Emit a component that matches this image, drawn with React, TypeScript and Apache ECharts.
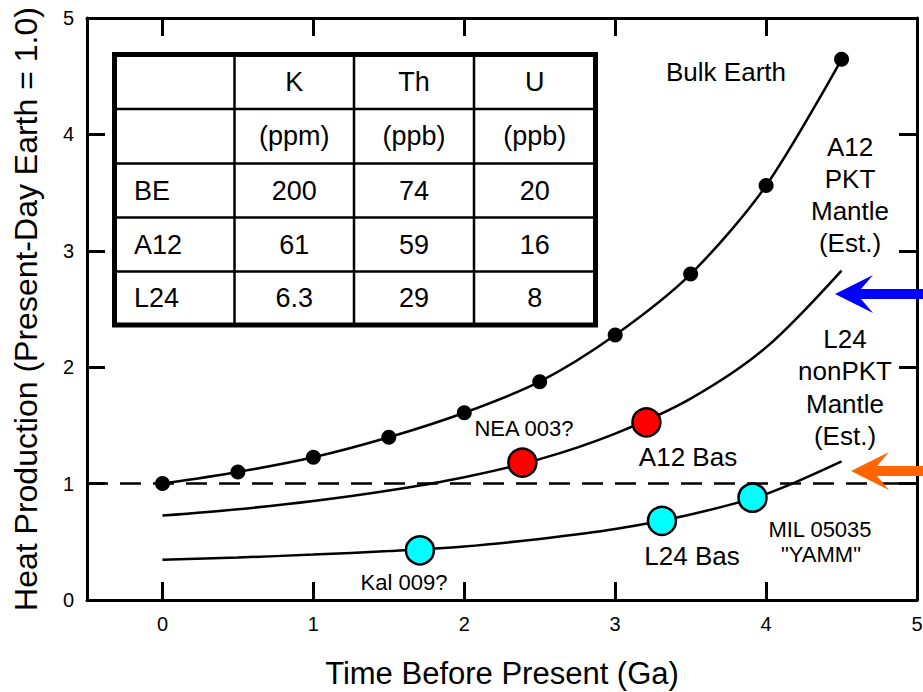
import React, { useEffect, useRef } from "react";
import * as echarts from "echarts";

// ---- data ----
const timeGa = [0, 0.5, 1, 1.5, 2, 2.5, 3, 3.5, 4, 4.5];
const bulkEarth = [1.0, 1.1, 1.226, 1.398, 1.609, 1.876, 2.277, 2.8, 3.56, 4.645];
const a12Mantle = [0.725, 0.78, 0.85, 0.94, 1.055, 1.21, 1.43, 1.73, 2.17, 2.83];
const l24Mantle = [0.345, 0.365, 0.39, 0.42, 0.46, 0.525, 0.61, 0.735, 0.91, 1.19];
const a12SampleNames = ["NEA 003?", "A12 Bas"];
const a12SampleTime = [2.385, 3.207];
const a12SampleHeat = [1.18, 1.526];
const l24SampleNames = ["Kal 009?", "L24 Bas", "MIL 05035"];
const l24SampleTime = [1.706, 3.31, 3.91];
const l24SampleHeat = [0.427, 0.68, 0.879];
const referenceLevel = 1.0;

const tableHeader = ["", "K", "Th", "U"];
const tableUnits = ["", "(ppm)", "(ppb)", "(ppb)"];
const tableRowNames = ["BE", "A12", "L24"];
const tableK = ["200", "61", "6.3"];
const tableTh = ["74", "59", "29"];
const tableU = ["20", "16", "8"];

const FONT = "'Liberation Sans', Arial, Helvetica, sans-serif";

function txt(text: string, x: number, y: number, size: number, align = "center") {
  return {
    type: "text",
    x,
    y,
    z: 10,
    style: {
      text,
      fontSize: size,
      fontFamily: FONT,
      fill: "#000",
      align,
      verticalAlign: "middle",
    },
  };
}

function buildTable() {
  const colX = [114.5, 234.5, 354, 474, 595.5];
  const rowY = [54.5, 109, 163.5, 217.5, 271.5, 325];
  const els: any[] = [];
  els.push({
    type: "rect",
    z: 5,
    shape: { x: colX[0], y: rowY[0], width: colX[4] - colX[0], height: rowY[5] - rowY[0] },
    style: { fill: "#fff", stroke: "#000", lineWidth: 5 },
  });
  for (let i = 1; i < 4; i++) {
    els.push({
      type: "line",
      z: 6,
      shape: { x1: colX[i], y1: rowY[0], x2: colX[i], y2: rowY[5] },
      style: { stroke: "#000", lineWidth: 2.5 },
    });
  }
  for (let j = 1; j < 5; j++) {
    els.push({
      type: "line",
      z: 6,
      shape: { x1: colX[0], y1: rowY[j], x2: colX[4], y2: rowY[j] },
      style: { stroke: "#000", lineWidth: 2.5 },
    });
  }
  const mid = (a: number, b: number) => (a + b) / 2;
  const rows = [
    tableHeader,
    tableUnits,
    ...tableRowNames.map((n, i) => [n, tableK[i], tableTh[i], tableU[i]]),
  ];
  rows.forEach((row, r) => {
    row.forEach((cell, c) => {
      if (!cell) return;
      const cy = mid(rowY[r], rowY[r + 1]);
      if (c === 0) els.push(txt(cell, 134, cy, 27, "left"));
      else els.push(txt(cell, mid(colX[c], colX[c + 1]), cy, 27, "center"));
    });
  });
  return els;
}

function arrow(tipX: number, tipY: number, color: string) {
  const headLen = 38;
  const notch = 26;
  const half = 19;
  const shaft = 5;
  return {
    type: "polygon",
    z: 4,
    shape: {
      points: [
        [tipX, tipY],
        [tipX + headLen, tipY - half],
        [tipX + notch, tipY - shaft],
        [923, tipY - shaft],
        [923, tipY + shaft],
        [tipX + notch, tipY + shaft],
        [tipX + headLen, tipY + half],
      ],
    },
    style: { fill: color },
  };
}

export default function App() {
  const ref = useRef<HTMLDivElement>(null);
  useEffect(() => {
    if (!ref.current) return;
    const chart = echarts.init(ref.current, undefined, { renderer: "svg" });
    const axisLine = { show: true, onZero: false, lineStyle: { color: "#000", width: 3 } };
    const axisTick = { show: true, inside: true, length: 18, lineStyle: { color: "#000", width: 3 } };
    const intLabel = (v: number) => (Math.abs(v - Math.round(v)) < 1e-9 ? String(Math.round(v)) : "");
    const xCommon = { type: "value", min: -0.5, max: 5, minInterval: 1, maxInterval: 1, splitLine: { show: false } };
    const yCommon = { type: "value", min: 0, max: 5, interval: 1, splitLine: { show: false } };

    chart.setOption({
      animation: false,
      backgroundColor: "#fff",
      grid: { left: 87, right: 6, top: 18, bottom: 92, containLabel: false, outerBoundsMode: "none" },
      xAxis: [
        {
          ...xCommon,
          position: "bottom",
          axisLine,
          axisTick,
          axisLabel: { formatter: intLabel, fontSize: 20, color: "#000", margin: 14, fontFamily: FONT },
          name: "Time Before Present (Ga)",
          nameLocation: "middle",
          nameGap: 57,
          nameTextStyle: { fontSize: 31, lineHeight: 32, color: "#000", fontFamily: FONT },
        },
        {
          ...xCommon,
          position: "top",
          axisLine,
          axisTick,
          axisLabel: { show: false },
        },
      ],
      yAxis: [
        {
          ...yCommon,
          position: "left",
          axisLine,
          axisTick,
          axisLabel: { fontSize: 20, color: "#000", margin: 13, fontFamily: FONT },
          name: "Heat Production (Present-Day Earth = 1.0)",
          nameLocation: "middle",
          nameGap: 45,
          nameRotate: 90,
          nameTextStyle: { fontSize: 32, color: "#000", fontFamily: FONT },
        },
        {
          ...yCommon,
          position: "right",
          axisLine,
          axisTick,
          axisLabel: { show: false },
        },
      ],
      series: [
        {
          name: "Reference",
          type: "line",
          data: [
            [-0.5, referenceLevel],
            [5, referenceLevel],
          ],
          symbol: "none",
          lineStyle: { color: "#000", width: 2.5, type: [21, 12] },
          z: 1,
        },
        {
          name: "Bulk Earth",
          type: "line",
          data: timeGa.map((t, i) => [t, bulkEarth[i]]),
          smooth: 0.3,
          symbol: "circle",
          symbolSize: 15,
          itemStyle: { color: "#000" },
          lineStyle: { color: "#000", width: 2.5 },
          z: 3,
        },
        {
          name: "A12 PKT Mantle",
          type: "line",
          data: timeGa.map((t, i) => [t, a12Mantle[i]]),
          smooth: 0.3,
          symbol: "none",
          lineStyle: { color: "#000", width: 2.5 },
          z: 3,
        },
        {
          name: "L24 nonPKT Mantle",
          type: "line",
          data: timeGa.map((t, i) => [t, l24Mantle[i]]),
          smooth: 0.3,
          symbol: "none",
          lineStyle: { color: "#000", width: 2.5 },
          z: 3,
        },
        {
          name: "A12 samples",
          type: "scatter",
          data: a12SampleNames.map((n, i) => ({ name: n, value: [a12SampleTime[i], a12SampleHeat[i]] })),
          symbolSize: 28,
          itemStyle: { color: "#ff0000", borderColor: "#000", borderWidth: 2.5, opacity: 1 },
          z: 5,
        },
        {
          name: "L24 samples",
          type: "scatter",
          data: l24SampleNames.map((n, i) => ({ name: n, value: [l24SampleTime[i], l24SampleHeat[i]] })),
          symbolSize: 28,
          itemStyle: { color: "#00ffff", borderColor: "#000", borderWidth: 2.5, opacity: 1 },
          z: 5,
        },
      ],
      graphic: [
        ...buildTable(),
        txt("Bulk Earth", 726, 72, 26),
        txt("A12", 850, 147, 26),
        txt("PKT", 850, 179, 26),
        txt("Mantle", 850, 211, 26),
        txt("(Est.)", 850, 243, 26),
        txt("L24", 845, 339, 26),
        txt("nonPKT", 845, 371, 26),
        txt("Mantle", 845, 404, 26),
        txt("(Est.)", 845, 436, 26),
        txt("A12 Bas", 688, 457, 26),
        txt("L24 Bas", 692, 556, 26),
        txt("NEA 003?", 524, 428, 22),
        txt("Kal 009?", 404, 582, 22),
        txt("MIL 05035", 820, 529, 22),
        txt('"YAMM"', 821, 554, 22),
        arrow(835, 294, "#0000ff"),
        arrow(851, 471, "#ff6600"),
      ],
    });
    return () => chart.dispose();
  }, []);
  return (
    <div
      ref={ref}
      style={{ position: "absolute", left: 0, top: 0, width: 923, height: 692, background: "#fff" }}
    />
  );
}
